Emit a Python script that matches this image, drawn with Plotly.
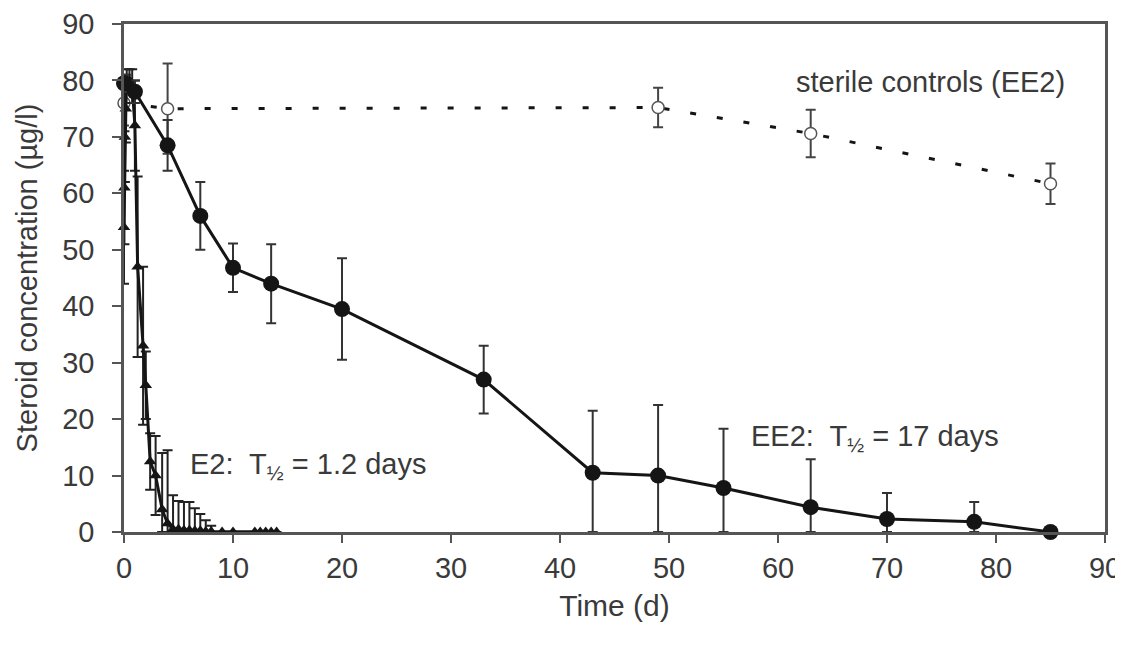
import plotly.graph_objects as go

# ---- data ----
ee2_t = [0, 1, 4, 7, 10, 13.5, 20, 33, 43, 49, 55, 63, 70, 78, 85]
ee2_c = [79.5, 78, 68.5, 56, 46.8, 44, 39.5, 27, 10.5, 10, 7.8, 4.4, 2.3, 1.8, 0]
ee2_err = [1.5, 2, 4.5, 6, 4.3, 7, 9, 6, 11, 12.5, 10.5, 8.5, 4.6, 3.5, 0]

ster_t = [0, 4, 49, 63, 85]
ster_c = [76, 75, 75.2, 70.6, 61.7]
ster_err = [4, 8, 3.5, 4.2, 3.6]

e2_t = [0, 0.04, 0.08, 0.17, 0.25, 0.5, 0.75, 1.0, 1.25, 1.75, 2.0, 2.4, 2.9, 3.5, 4.0,
        4.5, 5, 5.5, 6, 6.5, 7, 7.5, 8, 9, 10, 12, 12.5, 13, 13.5, 14]
e2_c = [54, 61, 70, 75, 80, 80, 79, 72, 47, 33, 26, 12.5, 10, 4, 1.5,
        0.5, 0.5, 0.3, 0.3, 0.2, 0.2, 0.1, 0.1, 0, 0, 0, 0, 0, 0, 0]
e2_err = [10, 10, 8, 6, 2, 2, 3, 8, 16, 14, 6, 5, 7, 10, 13,
          6, 5, 5, 5, 4, 3, 2, 1, 0, 0, 0, 0, 0, 0, 0]

x_ticks = [0, 10, 20, 30, 40, 50, 60, 70, 80, 90]
y_ticks = [0, 10, 20, 30, 40, 50, 60, 70, 80, 90]

INK = "#151515"
TXT = "#3a3a3a"
FONT = "Liberation Sans, Arial, sans-serif"
FS = 29


def minus(vals, errs):
    return [min(v, e) for v, e in zip(vals, errs)]


fig = go.Figure()

# sterile controls (open circles, dashed)
fig.add_trace(go.Scatter(
    x=ster_t, y=ster_c, mode="lines+markers",
    line=dict(color=INK, width=3, dash="6px,21px"),
    marker=dict(symbol="circle", size=12, color="white",
                line=dict(color="#555", width=1.5)),
    error_y=dict(type="data", array=ster_err, arrayminus=minus(ster_c, ster_err),
                 color="#444", thickness=2, width=5),
    cliponaxis=False, showlegend=False))

# E2 (triangles)
fig.add_trace(go.Scatter(
    x=e2_t, y=e2_c, mode="lines+markers",
    line=dict(color=INK, width=3),
    marker=dict(symbol="triangle-up", size=11, color=INK),
    error_y=dict(type="data", array=e2_err, arrayminus=minus(e2_c, e2_err),
                 color="#222", thickness=2, width=5),
    cliponaxis=False, showlegend=False))

# EE2 (filled circles)
fig.add_trace(go.Scatter(
    x=ee2_t, y=ee2_c, mode="lines+markers",
    line=dict(color=INK, width=3),
    marker=dict(symbol="circle", size=16, color=INK),
    error_y=dict(type="data", array=ee2_err, arrayminus=minus(ee2_c, ee2_err),
                 color="#333", thickness=2, width=5),
    cliponaxis=False, showlegend=False))

fig.add_annotation(x=61.5, y=79.7, xref="x", yref="y", xanchor="left", yanchor="middle",
                   text="sterile controls (EE2)", showarrow=False,
                   font=dict(family=FONT, size=FS, color=TXT))
fig.add_annotation(x=57.3, y=16.7, xref="x", yref="y", xanchor="left", yanchor="middle",
                   text="EE2:  T<sub>½</sub> = 17 days", showarrow=False,
                   font=dict(family=FONT, size=FS, color=TXT))
fig.add_annotation(x=5.9, y=11.7, xref="x", yref="y", xanchor="left", yanchor="middle",
                   text="E2:  T<sub>½</sub> = 1.2 days", showarrow=False,
                   font=dict(family=FONT, size=FS, color=TXT))

# page body has an 8px margin, so the figure is offset by (8, 8)
fig.update_layout(
    width=1115, height=637,
    margin=dict(l=116, r=18, t=16, b=113),
    paper_bgcolor="white", plot_bgcolor="white",
    font=dict(family=FONT, size=FS, color=TXT),
)
fig.update_xaxes(
    range=[0, 90], tickvals=x_ticks, ticktext=[str(v) for v in x_ticks],
    showgrid=False, zeroline=False, automargin=False,
    showline=True, linecolor="#555", linewidth=2.5, mirror=True,
    ticks="outside", ticklen=8, tickwidth=2, tickcolor="#555",
    title=dict(text="Time (d)", standoff=13, font=dict(size=30, color=TXT)),
)
fig.update_yaxes(
    range=[0, 90], tickvals=y_ticks, ticktext=[str(v) for v in y_ticks],
    showgrid=False, zeroline=False, automargin=False,
    showline=True, linecolor="#555", linewidth=2.5, mirror=True,
    ticks="outside", ticklen=9, tickwidth=2, tickcolor="#555",
    ticklabelstandoff=12,
    title=dict(text="Steroid concentration (µg/l)", standoff=17, font=dict(size=29, color=TXT)),
)

fig.write_html("out.html")
